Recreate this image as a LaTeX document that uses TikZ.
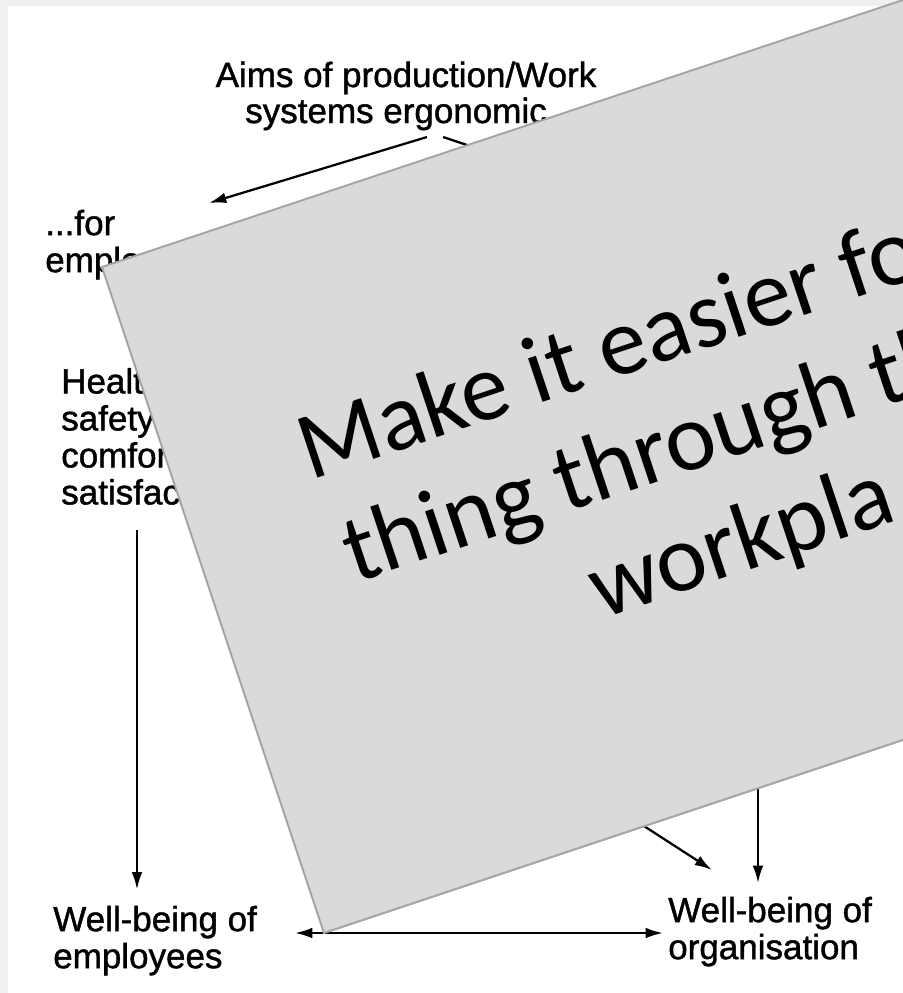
\documentclass[tikz,border=0pt]{standalone}
\usepackage{fontspec}
\setmainfont{Liberation Sans}
\newfontfamily\scanfont[FakeBold=1.2]{Liberation Sans}
\newfontfamily\slidefont{Carlito}
\usetikzlibrary{arrows.meta,positioning}

\definecolor{pagegrey}{RGB}{240,240,240}
\definecolor{slidegrey}{RGB}{218,218,218}
\definecolor{slideedge}{RGB}{165,165,165}

\tikzset{
  lbl/.style={align=left, anchor=north west, inner sep=0pt,
    font=\scanfont\fontsize{26.25}{27.75}\selectfont},
  arr/.style={line width=1.7pt, -{Latex[length=13pt,width=8pt]}},
  dbl/.style={line width=1.7pt, {Latex[length=13pt,width=8pt]}-{Latex[length=13pt,width=8pt]}},
  slidetxt/.style={anchor=base west, inner sep=0pt,
    font=\slidefont\fontsize{72}{84}\selectfont},
}

\begin{document}
\begin{tikzpicture}[x=0.75pt,y=-0.75pt]
    \useasboundingbox (0,0) rectangle (903,993);
    \clip (0,0) rectangle (903,993);
    \fill[pagegrey] (0,0) rectangle (903,993);
    \fill[white] (8,6) rectangle (903,993);
    %% scanned figure
    \node[lbl, anchor=base] (aims) at (406,87) {Aims of production/Work};
    \node[lbl, anchor=base west] (aimssys) at (245,123) {systems ergonomic};
    \node[lbl] (foremp) at (45,209.5) {...for\\emplo};
    \node[lbl] (health) at (61,367.8) {Healt\\safety\\comfor\\satisfac};
    \node[lbl] (weemp) at (53,905.5) {Well-being of\\employees};
    \node[lbl] (weorg) at (668,896.5) {Well-being of\\organisation};
    \coordinate (fororg) at (560,176);
    \coordinate (midsrc) at (565,775);
    \coordinate (rightsrc) at (758,760);
    %%
    \draw[arr] ([shift={(182,14)}]aimssys.base west) -- ([shift={(164,-6.5)}]foremp.north west);
    \draw[line width=1.7pt] ([shift={(198,14)}]aimssys.base west) -- (fororg);
    \draw[arr] ([shift={(76,25)}]health.south west) -- ([shift={(84,-16)}]weemp.north west);
    \draw[dbl] ([shift={(242,27.5)}]weemp.north west) -- ([shift={(-5,36.5)}]weorg.north west);
    \draw[arr] (midsrc) -- ([shift={(44,-26.5)}]weorg.north west);
    \draw[arr] (rightsrc) -- ([shift={(90,-13.5)}]weorg.north west);
    %% slide laid over the figure
    \begin{scope}[shift={(102,267)}, rotate=18.435, transform shape]
        \fill[slidegrey, draw=slideedge, line width=1.5pt] (0,0) rectangle (1400,702);
        \node[slidetxt] (mk1) at (130,268) {Make it easier fo};
        \node[slidetxt] (mk2) at (140,380) {thing through th};
        \node[slidetxt] (mk3) at (362,492) {workpla};
    \end{scope}
\end{tikzpicture}
\end{document}
